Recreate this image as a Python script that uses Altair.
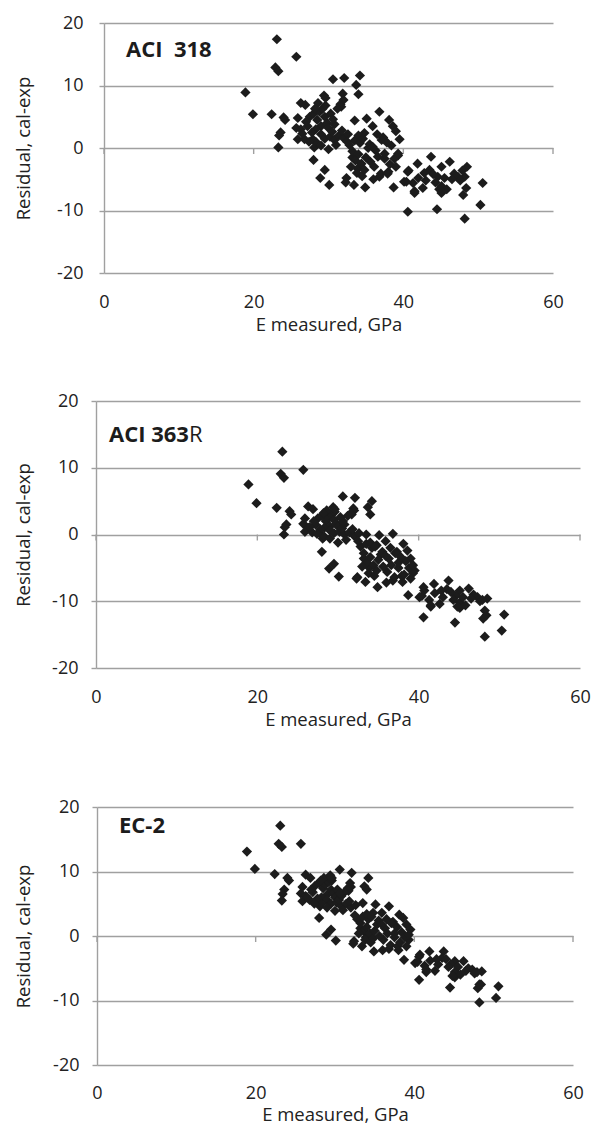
import altair as alt
import pandas as pd

# ---- data ----
e_measured = [
    18.9, 19.9, 22.4, 23.1, 22.9, 23.3, 24.0, 24.2, 23.6, 23.4, 23.3, 25.7,
    25.7, 26.3, 25.9, 25.9, 26.8, 27.9, 28.1, 28.0, 29.5, 28.9, 30.1, 26.3, 26.9, 27.5, 28.0,
    28.5, 28.8, 29.0, 29.2, 29.5, 29.8, 28.3, 27.2, 27.8, 29.0, 30.0, 30.3, 29.6, 28.6, 29.4,
    29.6, 30.6, 32.1, 31.9, 32.0, 31.6, 31.7, 31.2, 29.5, 30.2, 30.8, 31.4, 32.0, 32.6, 31.0,
    30.5, 31.8, 28.3, 29.0, 30.0, 27.0, 28.2, 30.8, 27.4, 26.5, 30.6,
    34.2, 33.7, 34.0, 33.5, 35.1, 36.8, 35.9, 38.1, 38.6, 39.0, 39.5, 37.3, 34.8, 38.4, 39.3,
    37.5, 35.3, 33.2, 33.9, 32.4, 33.4, 34.9, 36.8, 38.0, 38.7, 32.3, 36.1, 37.0, 37.9, 37.5,
    38.8, 39.3, 37.1, 37.8, 35.5, 36.3, 35.9, 32.8, 33.2, 33.6, 34.0, 34.4, 33.8, 34.5, 33.0,
    34.8, 35.0, 32.5, 33.5, 34.2, 34.0, 34.6, 36.5, 35.6, 36.6, 38.2, 39.0, 36.0,
    40.6, 44.5, 48.2, 50.3, 50.6, 43.7, 41.9, 40.7, 48.5, 46.2, 45.1, 48.0, 48.4, 48.2, 47.3,
    46.8, 40.1, 41.3, 41.5, 42.6, 43.5, 44.6, 45.1, 45.1, 40.6, 40.4, 41.5, 42.0, 43.0, 44.0,
    44.3, 45.5, 45.8, 46.5, 47.6, 42.8, 44.8, 47.9,
]
res_aci318 = [
    8.9, 5.4, 5.4, 17.4, 12.9, 12.3, 4.9, 4.5, 2.5, 2.0, 0.1, 14.6,
    3.2, 3.0, 4.8, 1.4, 1.4, 1.4, 0.1, -1.9, -3.5, -4.8, -5.9, 7.2, 6.9, 5.0, 5.5,
    4.5, 5.8, 3.5, 6.3, 5.0, 4.0, 3.0, 3.5, 2.5, 2.2, 3.2, 5.5, 6.8, 7.2, 8.4,
    8.0, 11.0, 11.2, 8.7, 7.7, 7.0, 6.6, 6.3, 1.5, 1.8, 1.3, 2.0, 1.6, 2.2, 0.5,
    2.6, 2.8, 1.0, 0.4, -0.2, 4.2, 6.3, 3.8, 1.0, 2.3, 4.6,
    11.6, 10.1, 8.6, 4.4, 4.7, 5.8, 3.5, 4.5, 3.5, 2.7, 1.4, 1.7, 2.4, 0.4, -1.2,
    -1.7, 0.0, -1.5, -3.3, -4.8, -5.9, -6.3, -4.6, -3.8, -6.3, -5.5, -3.0, -4.1, -4.1, -0.9,
    -1.7, -0.9, 1.3, 0.9, 0.6, -0.4, 0.2, 0.5, -0.5, -2.0, -1.0, -2.5, -4.0, -4.5, -3.0,
    -3.5, -1.5, 1.0, 1.2, 0.8, 2.0, 1.5, 2.2, -2.2, -1.4, -2.6, -3.0, -5.0,
    -10.2, -9.8, -11.3, -9.1, -5.6, -1.4, -2.5, -3.6, -3.0, -2.2, -3.0, -7.5, -6.4, -4.6, -4.6,
    -4.1, -5.4, -5.6, -7.2, -6.4, -3.5, -4.6, -6.1, -7.2, -3.8, -5.4, -6.9, -4.8, -5.2, -4.2,
    -5.5, -4.8, -6.6, -5.0, -5.2, -4.0, -6.6, -3.6,
]
res_aci363r = [
    7.5, 4.7, 4.0, 12.4, 9.1, 8.5, 3.5, 3.0, 1.5, 1.1, 0.0, 9.7,
    1.6, 1.0, 2.4, 0.4, 0.3, 0.0, -0.6, -2.6, -4.4, -5.1, -6.3, 4.2, 3.8, 2.4, 2.8,
    2.0, 2.6, 1.2, 3.0, 2.2, 1.6, 1.0, 1.5, 0.8, 0.6, 1.2, 2.6, 3.4, 3.6, 4.1,
    3.8, 5.7, 5.5, 3.9, 3.6, 3.2, 3.0, 2.8, 0.2, 0.4, 0.0, 0.3, -0.2, 0.2, -0.8,
    0.9, 0.8, -0.3, -0.6, -1.2, 2.0, 3.2, 1.5, 0.1, 1.1, 2.0,
    5.0, 4.1, 3.0, 0.0, -0.1, 0.1, -1.0, -1.4, -2.4, -3.6, -5.4, -2.6, -1.6, -4.0, -5.8,
    -5.0, -3.0, -3.6, -5.0, -6.4, -7.1, -7.9, -6.9, -7.1, -9.1, -6.6, -5.6, -6.4, -6.2, -4.2,
    -5.0, -4.6, -2.8, -3.4, -2.6, -3.6, -3.2, -1.8, -2.8, -4.2, -3.4, -4.6, -5.8, -6.2, -4.8,
    -5.4, -3.8, -1.0, -1.4, -2.0, -1.2, -1.8, -2.0, -4.8, -4.6, -6.0, -6.6, -7.2,
    -12.4, -13.2, -15.3, -14.4, -12.0, -6.9, -7.4, -8.4, -9.6, -8.1, -8.4, -12.6, -12.1, -11.4, -9.4,
    -9.0, -9.4, -9.8, -10.8, -10.4, -8.2, -9.2, -10.2, -11.0, -7.9, -9.2, -10.6, -8.8, -9.4, -8.6,
    -9.8, -9.4, -10.6, -9.6, -10.0, -8.4, -10.8, -9.8,
]
res_ec2 = [
    13.1, 10.4, 9.6, 17.1, 14.3, 13.8, 9.0, 8.6, 7.2, 6.5, 5.5, 14.3,
    6.6, 6.2, 7.6, 5.4, 5.6, 5.2, 4.6, 2.8, 1.0, 0.2, -0.7, 9.5, 9.0, 7.8, 8.2,
    7.4, 8.0, 6.4, 8.4, 7.2, 6.6, 6.0, 6.8, 5.8, 5.6, 6.0, 7.2, 8.6, 9.0, 9.4,
    9.0, 10.3, 9.8, 8.2, 7.6, 7.4, 7.0, 6.8, 5.0, 5.2, 4.6, 5.0, 4.4, 4.8, 4.0,
    5.6, 5.4, 5.0, 4.4, 3.9, 7.2, 8.6, 6.2, 5.0, 6.0, 6.6,
    9.0, 7.7, 7.2, 5.1, 4.9, 4.6, 3.6, 3.3, 2.8, 1.8, 1.0, 2.2, 3.6, 0.6, -0.6,
    -0.2, 1.8, 1.2, -0.2, -0.8, -1.6, -2.4, -2.0, -2.2, -3.7, -1.2, -0.6, -1.4, -1.6, 0.4,
    -0.2, 0.2, 2.0, 1.4, 2.4, 1.2, 1.8, 2.6, 2.0, 0.8, 1.4, 0.4, -0.6, -1.0, 0.4,
    -0.4, 0.8, 3.2, 3.0, 2.6, 3.4, 3.0, 2.6, 0.0, 0.4, -1.0, -1.6, -2.2,
    -6.8, -8.0, -10.3, -9.6, -7.8, -2.4, -2.4, -2.9, -5.5, -3.9, -3.9, -8.1, -7.5, -7.5, -5.2,
    -5.0, -4.2, -4.6, -5.6, -5.4, -3.4, -4.4, -5.6, -6.4, -3.2, -4.0, -5.2, -3.8, -4.4, -3.6,
    -4.8, -4.8, -6.0, -5.4, -5.8, -3.6, -6.2, -5.6,
]

x_ticks = [0, 20, 40, 60]
y_ticks = [-20, -10, 0, 10, 20]
x_title = "E measured, GPa"
y_title = "Residual, cal-exp"

GRID = "#a0a0a0"
INK = "#1c1c1c"
TXT = "#222222"
FONT = "Open Sans"

tick_df = pd.DataFrame({"x": x_ticks})
one_row = pd.DataFrame({"a": [0]})


def panel(res, inset, w, h, lp, tp, xlp, xtp, labels, extra_top=0):
    """inset: pixels between the common panel edge and the value-axis line."""
    df = pd.DataFrame({"E": e_measured, "res": res})
    xs = alt.Scale(domain=[0, 60], nice=False, zero=False, range=[inset, w])
    ys = alt.Scale(domain=[-20, 20], nice=False, zero=False)
    x_axis = alt.Axis(values=x_ticks, grid=False, domain=False, ticks=False,
                      labelFlush=False, labelPadding=xlp, titlePadding=xtp,
                      titleX=(inset + w) / 2,
                      labelExpr="'' + datum.value", title=x_title)
    y_axis = alt.Axis(values=y_ticks, grid=True, gridColor=GRID, gridWidth=1.4,
                      domain=True, domainColor=GRID, domainWidth=1.4,
                      ticks=True, tickColor=GRID, tickSize=5, tickWidth=1.4,
                      labelPadding=lp, titlePadding=tp, offset=-inset,
                      labelExpr="'' + datum.value", title=y_title)
    tks = alt.Chart(tick_df).mark_rule(color=GRID, strokeWidth=1.4, y2Offset=6).encode(
        x=alt.X("x:Q", scale=xs, axis=x_axis),
        y=alt.datum(0, scale=ys, axis=y_axis),
        y2=alt.datum(0),
    )
    pts = alt.Chart(df).mark_point(shape="diamond", filled=True, size=105,
                                   color=INK, opacity=1, strokeWidth=0).encode(
        x=alt.X("E:Q", scale=xs, axis=x_axis),
        y=alt.Y("res:Q", scale=ys, axis=y_axis),
    )
    layers = [tks, pts]
    for txt, weight, px, py in labels:
        layers.append(
            alt.Chart(pd.DataFrame({"t": [txt]})).mark_text(
                font=FONT, fontSize=22, fontWeight=weight, align="left",
                baseline="middle", color=INK,
            ).encode(x=alt.value(px), y=alt.value(py), text="t:N")
        )
    if extra_top:
        layers.append(
            alt.Chart(one_row).mark_rule(opacity=0, strokeWidth=1).encode(
                x=alt.value(0), y=alt.value(-extra_top), y2=alt.value(0))
        )
    return alt.layer(*layers).properties(width=w, height=h)


p1 = panel(res_aci318, 8, 457, 250, 16, 23, 20, 4,
           [("ACI\u00a0 318", "bold", 30, 27)])
p2 = panel(res_aci363r, 0, 484, 267, 13, 18, 20, 4,
           [("ACI 363", "bold", 13, 34), ("R", "normal", 93, 34)])
p3 = panel(res_ec2, 1, 477, 258, 13, 19, 19, 3,
           [("EC-2", "bold", 23, 19)], extra_top=20)

chart = (
    alt.vconcat(p1, p2, p3, spacing=57)
    .properties(padding={"left": 6, "top": 5, "right": 0, "bottom": 0})
    .configure_view(stroke="transparent")
    .configure_axis(labelFont=FONT, labelFontSize=18, labelColor=TXT,
                    titleFont=FONT, titleFontSize=18.5, titleFontWeight="normal",
                    titleColor=TXT)
)

chart.save("out.html", embed_options={"renderer": "svg", "actions": False})
